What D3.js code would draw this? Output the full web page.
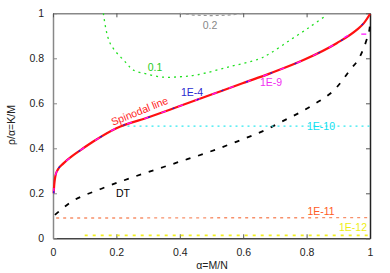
<!DOCTYPE html>
<html><head><meta charset="utf-8">
<script src="https://cdn.jsdelivr.net/npm/d3@7"></script>
<style>body{margin:0;background:#fff}svg{display:block}text{font-family:"Liberation Sans",Arial,sans-serif}</style>
</head><body><svg id="c" width="390" height="273"></svg>
<script>
// Data (alpha, rho)
const spinodal = [[0.002,0.2],[0.004,0.24],[0.008,0.28],[0.015,0.305],[0.033,0.333],[0.06,0.365],[0.085,0.39],[0.127,0.43],[0.2,0.489],[0.306,0.54],[0.4,0.588],[0.5,0.639],[0.6,0.69],[0.685,0.733],[0.79,0.792],[0.895,0.867],[0.958,0.926],[0.98,0.955],[1.0,0.997]];
const e4 = [[0.002,0.2],[0.004,0.24],[0.008,0.28],[0.015,0.305],[0.033,0.333],[0.06,0.365],[0.085,0.39],[0.127,0.43],[0.2,0.489],[0.306,0.54],[0.4,0.588],[0.5,0.639],[0.6,0.69],[0.685,0.733],[0.79,0.792],[0.895,0.867],[0.958,0.926],[0.98,0.957],[1.0,0.997]];
const e9 = [[0.002,0.2],[0.004,0.24],[0.008,0.28],[0.015,0.305],[0.033,0.333],[0.06,0.365],[0.085,0.39],[0.127,0.43],[0.2,0.489],[0.306,0.54],[0.4,0.588],[0.5,0.639],[0.6,0.69],[0.685,0.733],[0.79,0.792],[0.895,0.867],[0.94,0.905],[1.0,0.908]];
const e10 = [[0.002,0.2],[0.004,0.24],[0.008,0.28],[0.015,0.305],[0.033,0.333],[0.06,0.365],[0.085,0.39],[0.127,0.43],[0.2,0.489],[0.22,0.499],[1.0,0.499]];
const e11 = [[0.01,0.09],[1.0,0.092]];
const e12 = [[0.1,0.013],[1.0,0.013]];
const dt = [[0.006,0.104],[0.054,0.158],[0.148,0.218],[0.243,0.267],[0.39,0.336],[0.485,0.38],[0.58,0.43],[0.674,0.484],[0.721,0.518],[0.811,0.585],[0.895,0.671],[0.937,0.748],[0.968,0.807],[0.989,0.881],[0.998,0.926],[1.0,0.95]];
const c01 = [[0.159,1.0],[0.18,0.867],[0.232,0.778],[0.253,0.748],[0.296,0.73],[0.348,0.716],[0.4,0.718],[0.453,0.726],[0.558,0.763],[0.648,0.796],[0.685,0.822],[0.748,0.881],[0.811,0.94],[0.863,0.992]];
const c02 = [[0.4,1.0],[0.45,0.992],[0.5,0.99],[0.55,0.992],[0.6,1.0]];
const xTicks = [0,0.2,0.4,0.6,0.8,1];
const yTicks = [0,0.2,0.4,0.6,0.8,1];
const xTickLabels = ["0","0.2","0.4","0.6","0.8","1"];
const yTickLabels = ["0","0.2","0.4","0.6","0.8","1"];

const L=53,R=370,T=13.3,B=238.3;
const x=d3.scaleLinear().domain([0,1]).range([L,R]);
const y=d3.scaleLinear().domain([0,1]).range([B,T]);
const svg=d3.select("#c");
const line=d3.line().x(d=>x(d[0])).y(d=>y(d[1])).curve(d3.curveMonotoneX);
const lineN=d3.line().x(d=>x(d[0])).y(d=>y(d[1])).curve(d3.curveCatmullRom);

// axes
const gx=svg.append("g").attr("transform",`translate(0,${B})`).call(d3.axisBottom(x).tickValues(xTicks).tickFormat((d,i)=>xTickLabels[i]).tickSizeInner(-4).tickSizeOuter(0).tickPadding(10));
const gy=svg.append("g").attr("transform",`translate(${L},0)`).call(d3.axisLeft(y).tickValues(yTicks).tickFormat((d,i)=>yTickLabels[i]).tickSizeInner(-4).tickSizeOuter(0).tickPadding(9));
const gt=svg.append("g").attr("transform",`translate(0,${T})`).call(d3.axisTop(x).tickValues(xTicks).tickFormat("").tickSizeInner(-4).tickSizeOuter(0));
const gr=svg.append("g").attr("transform",`translate(${R},0)`).call(d3.axisRight(y).tickValues(yTicks).tickFormat("").tickSizeInner(-4).tickSizeOuter(0));
[gx,gy,gt,gr].forEach(g=>{g.selectAll("text").attr("font-size",10.5).attr("fill","#222").style("font-family","Liberation Sans, Arial, sans-serif");});
gx.select(".domain").attr("stroke","#444").attr("stroke-width",1.5);
gr.select(".domain").attr("stroke","#222").attr("stroke-width",1.5);
gy.select(".domain").attr("stroke","#888").attr("stroke-width",1.5);
gt.select(".domain").attr("stroke","#888").attr("stroke-width",1.5);
gy.selectAll(".tick line").attr("stroke","#888");
gt.selectAll(".tick line").attr("stroke","#555");
gr.selectAll(".tick line").attr("stroke","#555");
gx.selectAll(".tick line").attr("stroke","#555");

const plot=svg.append("g");
function draw(data,color,w,dash,gen){plot.append("path").datum(data).attr("d",(gen||line)(data)).attr("fill","none").attr("stroke",color).attr("stroke-width",w).attr("stroke-dasharray",dash||null);}
draw(c02,"#999",1.2,"3,3");
draw(c01,"#22e022",1.3,"2,4",lineN);
draw(e12,"#f2ee20",1.6,"3,5");
draw(e11,"#f7906a",1.4,"3,4");
draw(dt,"#000",1.8,"5,8");
draw(e10,"#30e8f0",1.3,"2,4");
draw(spinodal,"#ff1010",2.2);
draw(e9,"#ff10ff",1.3,"5,13");
draw(e4,"#2020e0",1.3,"2,24");

function lab(t,xp,yp,c,anchor,rot){const tx=svg.append("text").attr("x",xp).attr("y",yp).attr("fill",c).attr("font-size",10.5).attr("text-anchor",anchor||"middle").text(t);if(rot)tx.attr("transform",`rotate(${rot},${xp},${yp})`);}
lab("0.2",210,29,"#888");
lab("0.1",155,71,"#22cc22");
lab("1E-4",192,96,"#2a2ad0");
lab("1E-9",271,86,"#f030f0");
lab("1E-10",321,130,"#10e0f0");
lab("1E-11",321,215,"#ff5a24");
lab("1E-12",353,231,"#eeee10");
lab("DT",123,197,"#000");
lab("Spinodal line",141,114.5,"#ff2020","middle",-22);
svg.append("text").attr("x",212).attr("y",269).attr("text-anchor","middle").attr("font-size",10.5).attr("fill","#222").text("α=M/N");
svg.append("text").attr("transform","translate(15,125) rotate(-90)").attr("text-anchor","middle").attr("font-size",10.5).attr("fill","#222").text("ρ/α=K/M");
</script></body></html>
